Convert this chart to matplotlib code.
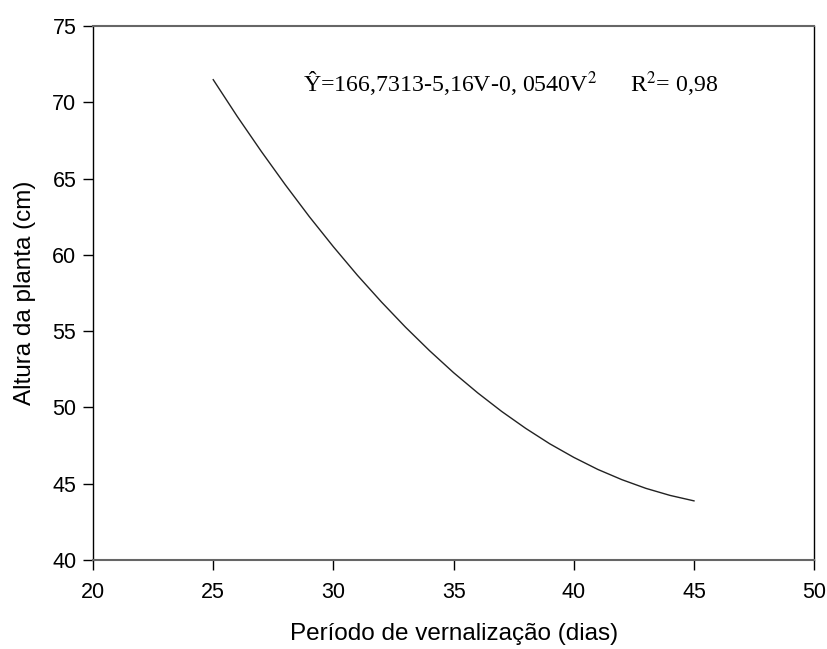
import numpy as np
import matplotlib.pyplot as plt

# periodo de vernalizacao (dias) vs altura da planta (cm)
dias = [25, 26, 27, 28, 29, 30, 31, 32, 33, 34, 35,
        36, 37, 38, 39, 40, 41, 42, 43, 44, 45]
altura = [71.48, 69.07, 66.78, 64.59, 62.50, 60.53, 58.66, 56.91, 55.26, 53.72, 52.28,
          50.96, 49.74, 48.63, 47.62, 46.73, 45.94, 45.27, 44.70, 44.24, 43.88]

xticks = [20, 25, 30, 35, 40, 45, 50]
yticks = [40, 45, 50, 55, 60, 65, 70, 75]

plt.rcParams['font.family'] = ['Liberation Sans', 'DejaVu Sans']
plt.rcParams['mathtext.fontset'] = 'stix'

fig = plt.figure(figsize=(8.27, 6.49), dpi=100)
ax = fig.add_axes([0.1125, 0.137, 0.872, 0.823])

ax.plot(dias, altura, color='#222222', lw=1.0)

ax.set_xlim(20, 50)
ax.set_ylim(40, 75)
ax.set_xticks(xticks)
ax.set_yticks(yticks)
ax.tick_params(direction='out', length=7, width=1, labelsize=15.5, pad=5)
ax.tick_params(axis='x', pad=9)
for s in ['top', 'bottom']:
    ax.spines[s].set_color('#666666')
    ax.spines[s].set_linewidth(1.5)
for s in ['left', 'right']:
    ax.spines[s].set_color('black')
    ax.spines[s].set_linewidth(1.0)

ax.set_xlabel('Período de vernalização (dias)', fontsize=17.5, labelpad=14)
ax.set_ylabel('Altura da planta (cm)', fontsize=17.5, labelpad=12)

ax.text(0.291, 0.876, 'Ŷ=166,7313-5,16V-0, 0540V$^2$', transform=ax.transAxes,
        fontsize=17.2, family=['Liberation Serif', 'DejaVu Serif'], va='baseline')
ax.text(0.745, 0.876, 'R$^2$= 0,98', transform=ax.transAxes,
        fontsize=17.2, family=['Liberation Serif', 'DejaVu Serif'], va='baseline')

fig.savefig('out.png', dpi=100)
